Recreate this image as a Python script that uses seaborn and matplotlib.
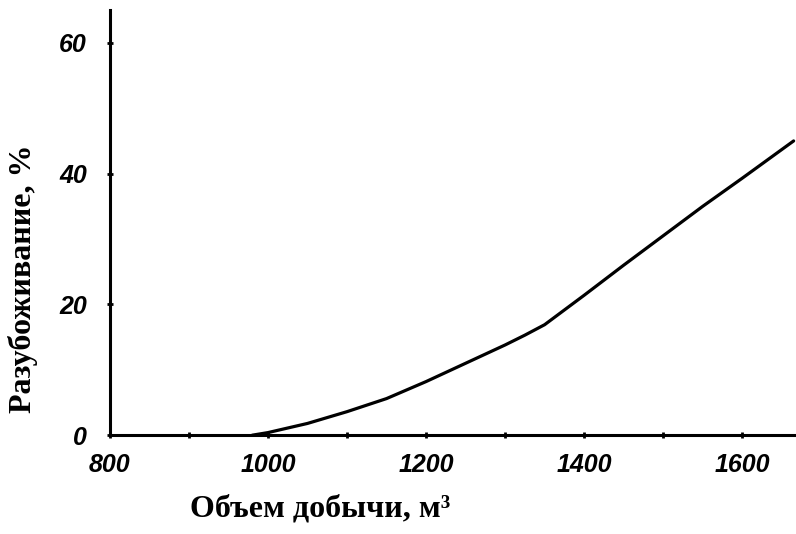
import matplotlib
matplotlib.use('Agg')
import matplotlib.pyplot as plt
from matplotlib.font_manager import FontProperties
import seaborn as sns
import pandas as pd

# Data
volume = [980, 1000, 1050, 1100, 1150, 1200, 1250, 1300, 1325, 1350, 1400, 1450, 1500, 1550, 1600, 1665]
dilution = [0, 0.4, 1.8, 3.6, 5.6, 8.2, 11.0, 13.8, 15.3, 16.9, 21.4, 26.0, 30.5, 35.0, 39.3, 45.0]
x_ticks = [800, 900, 1000, 1100, 1200, 1300, 1400, 1500, 1600]
x_tick_labels = ['800', '', '1000', '', '1200', '', '1400', '', '1600']
y_ticks = [0, 20, 40, 60]

df = pd.DataFrame({'volume': volume, 'dilution': dilution})

sns.set_style('ticks')
plt.rcParams['font.family'] = ['Liberation Serif', 'DejaVu Serif']

fig = plt.figure(figsize=(7.96, 5.34), dpi=100)
ax = fig.add_axes([0.138, 0.185, 0.862, 0.796])

sns.lineplot(data=df, x='volume', y='dilution', color='black', linewidth=2.3, ax=ax)

ax.set_xlim(805, 1668)
ax.set_ylim(0, 65)
ax.set_xticks(x_ticks)
ax.set_xticklabels(x_tick_labels)
ax.set_yticks(y_ticks)

tick_font = FontProperties(family=['Liberation Sans', 'DejaVu Sans'],
                           weight='bold', style='italic', size=18)
for lbl in ax.get_xticklabels() + ax.get_yticklabels():
    lbl.set_fontproperties(tick_font)
    lbl.set_color('black')

ax.tick_params(axis='both', direction='inout', length=5, width=2, color='black')
ax.tick_params(axis='x', pad=10)
ax.tick_params(axis='y', pad=14)

for side in ['top', 'right']:
    ax.spines[side].set_visible(False)
for side in ['left', 'bottom']:
    ax.spines[side].set_linewidth(2.2)
    ax.spines[side].set_color('black')

ax.set_xlabel('Объем добычи, м³', fontsize=23, fontweight='bold', color='black')
ax.set_ylabel('Разубоживание, %', fontsize=23, fontweight='bold', color='black')
ax.xaxis.set_label_coords(0.306, -0.14)
ax.yaxis.set_label_coords(-0.104, 0.369)

fig.savefig('out.png', dpi=100)
